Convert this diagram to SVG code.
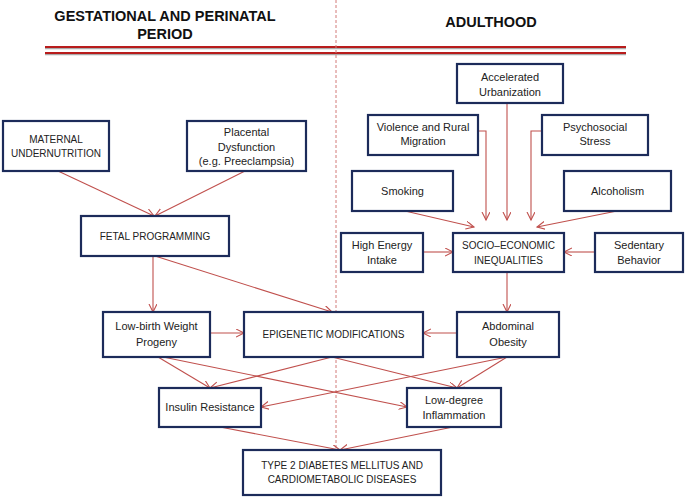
<svg xmlns="http://www.w3.org/2000/svg" width="685" height="498" viewBox="0 0 685 498">
<style>
.box{fill:#fff;stroke:#1c2b5a;stroke-width:2.2}
.t{font-family:"Liberation Sans",Arial,sans-serif;font-size:11px;fill:#222;text-anchor:middle}
.u{font-family:"Liberation Sans",Arial,sans-serif;font-size:10px;fill:#222;text-anchor:middle}
.h{font-family:"Liberation Sans",Arial,sans-serif;font-size:14.5px;font-weight:bold;fill:#111;text-anchor:middle}
.c{fill:none;stroke:#c0504d;stroke-width:1.1}
</style>
<defs>
<marker id="ah" markerWidth="10" markerHeight="10" refX="8" refY="4" orient="auto" markerUnits="userSpaceOnUse">
<path d="M0,0 L8,4 L0,8" fill="none" stroke="#c0504d" stroke-width="1.1"/>
</marker>
</defs>
<rect width="685" height="498" fill="#fff"/>
<g id="header">
<text class="h" x="165" y="21">GESTATIONAL AND PERINATAL</text>
<text class="h" x="165" y="39">PERIOD</text>
<text class="h" x="491" y="27">ADULTHOOD</text>
<line x1="45" y1="48.5" x2="626" y2="48.5" stroke="#aaa" stroke-width="1.5"/>
<line x1="45" y1="54.5" x2="626" y2="54.5" stroke="#aaa" stroke-width="1.5"/>
<line x1="45" y1="47" x2="626" y2="47" stroke="#b81c1c" stroke-width="2"/>
<line x1="45" y1="53" x2="626" y2="53" stroke="#b81c1c" stroke-width="2"/>
<line x1="336" y1="0" x2="336" y2="450" stroke="#d27a78" stroke-width="1" stroke-dasharray="3,2"/>
</g>
<g id="connectors">
<line class="c" x1="58" y1="171" x2="154" y2="216" marker-end="url(#ah)"/>
<line class="c" x1="245" y1="171" x2="155" y2="216" marker-end="url(#ah)"/>
<line class="c" x1="153" y1="256" x2="153" y2="312" marker-end="url(#ah)"/>
<line class="c" x1="155" y1="256" x2="332" y2="312" marker-end="url(#ah)"/>
<line class="c" x1="507" y1="103" x2="507" y2="220" marker-end="url(#ah)"/>
<polyline class="c" points="478,131 486,131 486,220" marker-end="url(#ah)"/>
<polyline class="c" points="542,131 531,131 531,220" marker-end="url(#ah)"/>
<line class="c" x1="405" y1="211" x2="474" y2="227" marker-end="url(#ah)"/>
<line class="c" x1="617" y1="211" x2="537" y2="227" marker-end="url(#ah)"/>
<line class="c" x1="423" y1="252" x2="453" y2="252" marker-end="url(#ah)"/>
<line class="c" x1="595" y1="252" x2="564" y2="252" marker-end="url(#ah)"/>
<line class="c" x1="507" y1="272" x2="507" y2="312" marker-end="url(#ah)"/>
<line class="c" x1="210" y1="333" x2="244" y2="333" marker-end="url(#ah)"/>
<line class="c" x1="457" y1="333" x2="423" y2="333" marker-end="url(#ah)"/>
<line class="c" x1="158" y1="357" x2="210" y2="388" marker-end="url(#ah)"/>
<line class="c" x1="163" y1="357" x2="407" y2="407" marker-end="url(#ah)"/>
<line class="c" x1="332" y1="357" x2="210" y2="388" marker-end="url(#ah)"/>
<line class="c" x1="332" y1="357" x2="457" y2="388" marker-end="url(#ah)"/>
<line class="c" x1="507" y1="357" x2="261" y2="407" marker-end="url(#ah)"/>
<line class="c" x1="507" y1="357" x2="457" y2="388" marker-end="url(#ah)"/>
<line class="c" x1="220" y1="427" x2="340" y2="450" marker-end="url(#ah)"/>
<line class="c" x1="453" y1="427" x2="340" y2="450" marker-end="url(#ah)"/>
</g>
<g id="maternal"><rect class="box" x="3" y="121" width="106" height="50"/><text class="u" x="56" y="143">MATERNAL</text><text class="u" x="56" y="157">UNDERNUTRITION</text></g>
<g id="placental"><rect class="box" x="187" y="121" width="119" height="50"/><text class="t" x="246.5" y="136">Placental</text><text class="t" x="246.5" y="150.5">Dysfunction</text><text class="t" x="246.5" y="165">(e.g. Preeclampsia)</text></g>
<g id="fetal"><rect class="box" x="81" y="216" width="148" height="40"/><text class="u" x="155" y="240">FETAL PROGRAMMING</text></g>
<g id="urbanization"><rect class="box" x="457" y="64" width="106" height="39"/><text class="t" x="510" y="81">Accelerated</text><text class="t" x="510" y="96">Urbanization</text></g>
<g id="violence"><rect class="box" x="368" y="115" width="110" height="40"/><text class="t" x="423" y="131">Violence and Rural</text><text class="t" x="423" y="145">Migration</text></g>
<g id="psychosocial"><rect class="box" x="542" y="115" width="106" height="40"/><text class="t" x="595" y="131">Psychosocial</text><text class="t" x="595" y="145">Stress</text></g>
<g id="smoking"><rect class="box" x="352" y="171" width="101" height="40"/><text class="t" x="402.5" y="195">Smoking</text></g>
<g id="alcoholism"><rect class="box" x="564" y="171" width="107" height="40"/><text class="t" x="617.5" y="195">Alcoholism</text></g>
<g id="highenergy"><rect class="box" x="341" y="233" width="82" height="39"/><text class="t" x="382" y="249">High Energy</text><text class="t" x="382" y="264">Intake</text></g>
<g id="socioeconomic"><rect class="box" x="453" y="233" width="111" height="39"/><text class="u" x="508.5" y="249">SOCIO–ECONOMIC</text><text class="u" x="508.5" y="264">INEQUALITIES</text></g>
<g id="sedentary"><rect class="box" x="595" y="233" width="88" height="39"/><text class="t" x="639" y="249">Sedentary</text><text class="t" x="639" y="264">Behavior</text></g>
<g id="lowbirth"><rect class="box" x="103" y="312" width="107" height="45"/><text class="t" x="156.5" y="330">Low-birth Weight</text><text class="t" x="156.5" y="346">Progeny</text></g>
<g id="epigenetic"><rect class="box" x="244" y="312" width="179" height="45"/><text class="u" x="333.5" y="338">EPIGENETIC MODIFICATIONS</text></g>
<g id="abdominal"><rect class="box" x="457" y="312" width="102" height="45"/><text class="t" x="508" y="330">Abdominal</text><text class="t" x="508" y="346">Obesity</text></g>
<g id="insulin"><rect class="box" x="159" y="388" width="102" height="39"/><text class="t" x="210" y="411">Insulin Resistance</text></g>
<g id="inflammation"><rect class="box" x="407" y="388" width="94" height="39"/><text class="t" x="454" y="404">Low-degree</text><text class="t" x="454" y="419">Inflammation</text></g>
<g id="diabetes"><rect class="box" x="243" y="450" width="198" height="45"/><text class="u" x="342" y="469">TYPE 2 DIABETES MELLITUS AND</text><text class="u" x="342" y="483">CARDIOMETABOLIC DISEASES</text></g>
</svg>
